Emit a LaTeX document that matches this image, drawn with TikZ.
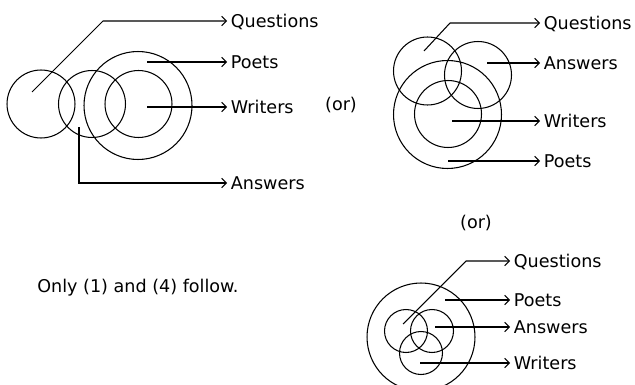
\documentclass[tikz,border=0pt]{standalone}
\usepackage{fontspec}
\setmainfont{DejaVu Sans}
\usetikzlibrary{arrows.meta}
\tikzset{
  arr/.style={->, line width=0.6pt, >={Straight Barb[length=2.6pt,width=5.4pt]}},
  venn/.style={draw, circle, inner sep=0pt, line width=0.6pt, minimum size=#1},
  lbl/.style={anchor=west, inner xsep=2pt, inner ysep=0pt, text height=1.5ex, text depth=.25ex}
}

\begin{document}
\begin{tikzpicture}[x=0.02cm, y=-0.02cm, every node/.style={font=\fontsize{10}{12}\selectfont}]

  \clip (0,0) rectangle (635,385);

  % first diagram
  \node[venn=1.36cm] (q1) at (41,104) {};
  \node[venn=1.34cm] (a1) at (92,104) {};
  \node[venn=2.16cm] (p1) at (138,105.5) {};
  \node[venn=1.34cm] (w1) at (138.5,104) {};

  \coordinate (q1s) at (32,92);
  \coordinate (q1k) at (103,21);
  \coordinate (p1s) at (147,62);
  \coordinate (w1s) at (147,107);
  \coordinate (a1s) at (79,127);

  \node[lbl] (lq1) at (227,21) {Questions};
  \node[lbl] (lp1) at (227,62) {Poets};
  \node[lbl] (lw1) at (227,107) {Writers};
  \node[lbl] (la1) at (227,183) {Answers};

  \draw[arr] (q1s) -- (q1k) -- (lq1.west);
  \draw[arr] (p1s) -- (lp1.west);
  \draw[arr] (w1s) -- (lw1.west);
  \draw[arr] (a1s) |- (la1.west);

  \node (or1) at (341,105) {(or)};

  % second diagram
  \node[venn=1.36cm] (q2) at (427.5,71) {};
  \node[venn=1.34cm] (a2) at (478,75) {};
  \node[venn=2.16cm] (p2) at (447.5,114.5) {};
  \node[venn=1.34cm] (w2) at (448,114) {};

  \coordinate (q2s) at (424,51);
  \coordinate (q2k) at (450,23);
  \coordinate (a2s) at (487,63);
  \coordinate (w2s) at (452,121);
  \coordinate (p2s) at (448,161);

  \node[lbl] (lq2) at (540,23) {Questions};
  \node[lbl] (la2) at (540,63) {Answers};
  \node[lbl] (lw2) at (540,121) {Writers};
  \node[lbl] (lp2) at (540,161) {Poets};

  \draw[arr] (q2s) -- (q2k) -- (lq2.west);
  \draw[arr] (a2s) -- (la2.west);
  \draw[arr] (w2s) -- (lw2.west);
  \draw[arr] (p2s) -- (lp2.west);

  \node (or2) at (476,223) {(or)};

  % third diagram
  \node[venn=2.16cm] (p3) at (421,337) {};
  \node[venn=0.86cm] (q3) at (406,331) {};
  \node[venn=0.86cm] (a3) at (432,331) {};
  \node[venn=0.86cm] (w3) at (421,353) {};

  \coordinate (q3s) at (403,324);
  \coordinate (q3k) at (466,261);
  \coordinate (p3s) at (445,300);
  \coordinate (a3s) at (435,327);
  \coordinate (w3s) at (420,363);

  \node[lbl] (lq3) at (510,261) {Questions};
  \node[lbl] (lp3) at (510,300) {Poets};
  \node[lbl] (la3) at (510,327) {Answers};
  \node[lbl] (lw3) at (510,363) {Writers};

  \draw[arr] (q3s) -- (q3k) -- (lq3.west);
  \draw[arr] (p3s) -- (lp3.west);
  \draw[arr] (a3s) -- (la3.west);
  \draw[arr] (w3s) -- (lw3.west);

  % conclusion
  \node[anchor=west, inner sep=0pt] (concl) at (37,288) {Only (1) and (4) follow.};

\end{tikzpicture}
\end{document}
